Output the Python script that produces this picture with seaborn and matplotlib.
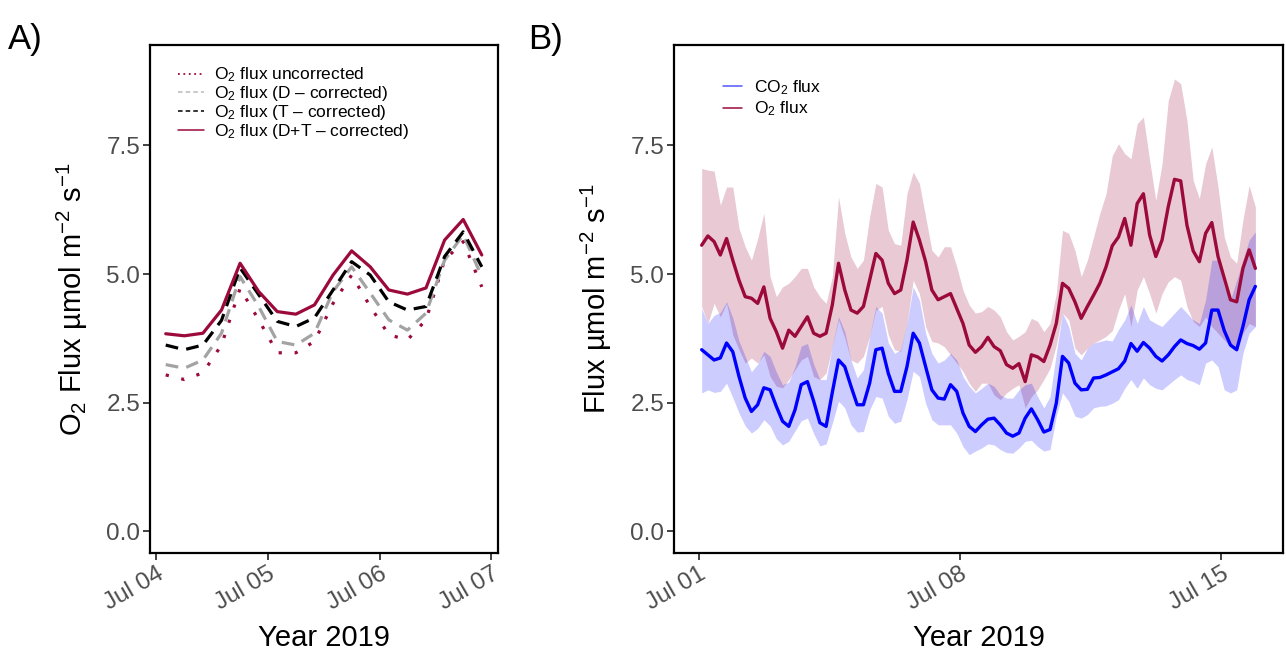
import numpy as np
import pandas as pd
import matplotlib
matplotlib.use("Agg")
import matplotlib.pyplot as plt
import matplotlib.dates as mdates
from matplotlib.lines import Line2D
from matplotlib.ticker import FormatStrFormatter
import seaborn as sns

# panel A: O2 flux corrections, 4-hourly, Jul 04 02:00 - Jul 06 22:00
o2_uncorrected = [3.04, 2.95, 3.08, 3.62, 4.72, 4.11, 3.47, 3.47, 3.69, 4.43,
                  4.98, 4.37, 3.82, 3.72, 4.11, 5.27, 5.63, 4.75]
o2_d_corrected = [3.24, 3.17, 3.33, 3.85, 4.95, 4.37, 3.69, 3.62, 3.85, 4.66,
                  5.14, 4.63, 4.11, 3.91, 4.24, 5.27, 5.76, 4.95]
o2_t_corrected = [3.62, 3.53, 3.62, 4.10, 5.12, 4.60, 4.08, 3.98, 4.15, 4.69,
                  5.24, 4.98, 4.46, 4.30, 4.37, 5.34, 5.82, 5.14]
o2_dt_corrected = [3.84, 3.80, 3.85, 4.30, 5.21, 4.66, 4.27, 4.22, 4.40, 4.98,
                   5.45, 5.14, 4.69, 4.61, 4.73, 5.66, 6.06, 5.37]

# panel B: CO2 and O2 flux with ranges, 4-hourly, Jul 01 02:00 - Jul 15 22:00
co2_flux = [3.53, 3.43, 3.33, 3.37, 3.66, 3.49, 3.01, 2.59, 2.33, 2.46, 2.79, 2.75, 2.43, 2.14, 2.04,
            2.36, 2.85, 2.91, 2.53, 2.11, 2.04, 2.70, 3.33, 3.20, 2.82, 2.46, 2.46, 2.88, 3.53, 3.56,
            3.07, 2.72, 2.72, 3.20, 3.85, 3.66, 3.20, 2.75, 2.59, 2.57, 2.85, 2.72, 2.30, 2.04, 1.94,
            2.07, 2.18, 2.20, 2.07, 1.91, 1.85, 1.91, 2.20, 2.38, 2.17, 1.93, 1.98, 2.49, 3.40, 3.27,
            2.88, 2.75, 2.76, 2.98, 2.99, 3.04, 3.10, 3.16, 3.31, 3.65, 3.50, 3.67, 3.56, 3.40, 3.31,
            3.43, 3.59, 3.72, 3.65, 3.61, 3.54, 3.66, 4.30, 4.30, 3.90, 3.62, 3.53, 3.98, 4.50, 4.76]
co2_upper = [4.33, 4.04, 4.20, 4.25, 4.46, 4.15, 3.70, 3.40, 3.10, 3.25, 3.50, 3.40, 3.10, 2.85, 2.90,
             3.20, 3.60, 3.65, 3.25, 2.95, 2.95, 3.60, 4.17, 3.88, 3.33, 2.98, 3.14, 3.79, 4.37, 4.24,
             3.66, 3.46, 3.53, 4.04, 4.75, 4.49, 3.85, 3.46, 3.27, 3.33, 3.46, 3.33, 3.01, 2.82, 2.69,
             2.78, 2.88, 2.82, 2.65, 2.59, 2.59, 2.75, 2.85, 2.88, 2.62, 2.40, 2.62, 3.46, 4.24, 3.98,
             3.46, 3.33, 3.56, 3.66, 3.69, 3.72, 3.70, 3.92, 4.11, 4.40, 4.04, 4.37, 4.11, 4.04, 3.98,
             4.11, 4.24, 4.37, 4.24, 4.11, 4.04, 4.50, 5.27, 5.27, 4.76, 4.50, 4.88, 5.27, 5.66, 5.82]
co2_lower = [2.69, 2.75, 2.70, 2.72, 2.88, 2.60, 2.30, 2.05, 1.91, 2.00, 2.17, 2.05, 1.80, 1.68, 1.75,
             1.95, 2.15, 2.20, 1.90, 1.66, 1.70, 2.10, 2.53, 2.40, 2.07, 1.93, 1.94, 2.36, 2.62, 2.59,
             2.24, 2.10, 2.14, 2.56, 3.11, 3.01, 2.49, 2.17, 2.07, 2.07, 2.07, 1.91, 1.65, 1.49, 1.56,
             1.62, 1.70, 1.68, 1.59, 1.53, 1.52, 1.62, 1.75, 1.77, 1.65, 1.56, 1.59, 2.24, 2.69, 2.53,
             2.24, 2.20, 2.27, 2.40, 2.43, 2.44, 2.49, 2.56, 2.78, 2.95, 2.78, 2.98, 2.85, 2.78, 2.75,
             2.85, 2.95, 3.04, 2.95, 2.91, 2.85, 3.27, 3.33, 3.20, 2.75, 2.69, 2.75, 3.46, 3.85, 3.98]
o2_flux = [5.56, 5.74, 5.63, 5.37, 5.69, 5.27, 4.88, 4.56, 4.53, 4.43, 4.75, 4.14, 3.88, 3.56, 3.91,
           3.79, 3.98, 4.17, 3.85, 3.79, 3.85, 4.40, 5.21, 4.69, 4.30, 4.24, 4.37, 4.88, 5.40, 5.27,
           4.82, 4.62, 4.69, 5.27, 6.01, 5.66, 5.24, 4.69, 4.50, 4.56, 4.62, 4.33, 4.04, 3.62, 3.48,
           3.59, 3.77, 3.59, 3.51, 3.24, 3.17, 3.26, 2.91, 3.43, 3.39, 3.30, 3.62, 4.04, 4.82, 4.72,
           4.46, 4.14, 4.37, 4.59, 4.82, 5.14, 5.55, 5.72, 6.08, 5.56, 6.37, 6.56, 5.76, 5.34, 5.66,
           6.31, 6.84, 6.81, 5.95, 5.45, 5.24, 5.79, 6.00, 5.34, 4.92, 4.50, 4.46, 5.11, 5.47, 5.11]
o2_upper = [7.05, 7.02, 7.00, 6.34, 6.69, 6.69, 5.89, 5.53, 5.27, 5.69, 6.18, 4.95, 4.56, 4.75, 4.82,
            4.95, 5.11, 5.11, 4.75, 4.56, 4.43, 4.95, 6.50, 5.79, 5.33, 5.11, 5.27, 6.11, 6.76, 6.69,
            5.85, 5.59, 5.56, 6.56, 6.98, 6.76, 6.11, 5.46, 5.33, 5.53, 5.53, 5.14, 4.69, 4.40, 4.24,
            4.27, 4.37, 4.30, 4.17, 3.88, 3.72, 3.79, 3.88, 4.14, 4.08, 3.88, 4.04, 4.62, 5.85, 5.79,
            5.46, 4.95, 5.27, 5.72, 6.18, 6.56, 7.30, 7.53, 7.34, 7.24, 7.92, 8.05, 7.21, 6.43, 7.14,
            8.37, 8.79, 8.70, 7.98, 6.82, 6.47, 7.14, 7.47, 6.69, 5.72, 5.33, 5.21, 6.05, 6.72, 6.30]
o2_lower = [4.37, 4.04, 4.43, 4.17, 4.43, 3.82, 3.53, 3.27, 3.37, 3.27, 3.43, 3.01, 2.82, 2.79, 2.95,
            3.14, 3.33, 3.40, 3.01, 2.95, 3.08, 3.59, 4.11, 3.76, 3.33, 3.27, 3.40, 3.79, 4.30, 4.37,
            3.82, 3.53, 3.50, 4.04, 4.88, 4.62, 3.98, 3.69, 3.66, 3.59, 3.43, 3.27, 3.11, 2.88, 2.72,
            2.88, 2.88, 2.65, 2.56, 2.69, 2.78, 2.85, 2.40, 2.62, 2.75, 2.95, 3.17, 3.62, 4.24, 4.11,
            3.56, 3.43, 3.56, 3.66, 3.72, 3.79, 3.90, 4.30, 4.62, 3.98, 4.69, 4.95, 4.62, 4.24, 4.62,
            4.85, 4.95, 4.88, 4.37, 4.08, 3.98, 4.17, 3.98, 3.85, 3.72, 3.59, 3.50, 3.85, 4.04, 3.98]

crimson = "#9B0A3A"
grey = "#A3A3A3"
blue = "#0000FF"

sns.set_theme(style="white")
plt.rcParams["font.family"] = ["Liberation Sans", "DejaVu Sans"]
plt.rcParams["mathtext.fontset"] = "custom"
plt.rcParams["mathtext.rm"] = "Liberation Sans"
plt.rcParams["mathtext.it"] = "Liberation Sans:italic"
plt.rcParams["mathtext.default"] = "regular"
plt.rcParams["text.color"] = "black"

df_a = pd.DataFrame({
    "time": pd.date_range("2019-07-04 02:00", periods=len(o2_dt_corrected), freq="4h"),
    "unc": o2_uncorrected, "d": o2_d_corrected, "t": o2_t_corrected, "dt": o2_dt_corrected,
})
df_b = pd.DataFrame({
    "time": pd.date_range("2019-07-01 02:00", periods=len(o2_flux), freq="4h"),
    "co2": co2_flux, "co2_lo": co2_lower, "co2_hi": co2_upper,
    "o2": o2_flux, "o2_lo": o2_lower, "o2_hi": o2_upper,
})

fig = plt.figure(figsize=(12.86, 6.57), dpi=100)
ax1 = fig.add_axes([0.1166, 0.1583, 0.2703, 0.7732])
ax2 = fig.add_axes([0.5241, 0.1583, 0.4736, 0.7732])

# panel A
lw = 2.3
sns.lineplot(data=df_a, x="time", y="unc", ax=ax1, color=crimson, lw=lw, linestyle=(0, (1, 4)))
sns.lineplot(data=df_a, x="time", y="d", ax=ax1, color=grey, lw=lw, linestyle=(0, (4, 2.6)))
sns.lineplot(data=df_a, x="time", y="t", ax=ax1, color="black", lw=lw, linestyle=(0, (4, 2.6)))
sns.lineplot(data=df_a, x="time", y="dt", ax=ax1, color=crimson, lw=lw)

handles_a = [
    Line2D([], [], color=crimson, lw=1.3, linestyle=(0, (1, 2))),
    Line2D([], [], color="#BBBBBB", lw=1.1, linestyle=(0, (3, 2))),
    Line2D([], [], color="black", lw=1.1, linestyle=(0, (3, 2))),
    Line2D([], [], color=crimson, lw=1.1),
]
labels_a = ["O$_2$ flux uncorrected", "O$_2$ flux (D \u2013 corrected)",
            "O$_2$ flux (T \u2013 corrected)", "O$_2$ flux (D+T \u2013 corrected)"]
ax1.legend(handles_a, labels_a, loc="upper left", bbox_to_anchor=(0.035, 0.99), frameon=False,
           fontsize=12.5, handlelength=1.5, handletextpad=0.6, labelspacing=0.0)

t0 = pd.Timestamp("2019-07-04")
ax1.set_xlim(t0 - pd.Timedelta(days=0.058), t0 + pd.Timedelta(days=3.058))
ax1.xaxis.set_major_locator(mdates.DayLocator())
ax1.xaxis.set_major_formatter(mdates.DateFormatter("%b %d"))
ax1.set_ylabel("O$_2$ Flux \u00b5mol m$^{-2}$ s$^{-1}$", fontsize=21, labelpad=12, color="black")

# panel B
ax2.fill_between(df_b["time"], df_b["o2_lo"], df_b["o2_hi"], color=crimson, alpha=0.22, lw=0)
ax2.fill_between(df_b["time"], df_b["co2_lo"], df_b["co2_hi"], color=blue, alpha=0.2, lw=0)
sns.lineplot(data=df_b, x="time", y="co2", ax=ax2, color=blue, lw=2.4)
sns.lineplot(data=df_b, x="time", y="o2", ax=ax2, color=crimson, lw=2.4)

handles_b = [Line2D([], [], color="#5555FF", lw=1.1), Line2D([], [], color=crimson, lw=1.1)]
ax2.legend(handles_b, ["CO$_2$ flux", "O$_2$ flux"], loc="upper left", bbox_to_anchor=(0.055, 0.965),
           frameon=False, fontsize=12.5, handlelength=1.1, handletextpad=0.7, labelspacing=0.15)

t1 = pd.Timestamp("2019-07-01")
ax2.set_xlim(t1 - pd.Timedelta(days=0.658), t1 + pd.Timedelta(days=15.658))
ax2.xaxis.set_major_locator(mdates.DayLocator(bymonthday=[1, 8, 15]))
ax2.xaxis.set_major_formatter(mdates.DateFormatter("%b %d"))
ax2.set_ylabel("Flux \u00b5mol m$^{-2}$ s$^{-1}$", fontsize=21, labelpad=12, color="black")

for ax in (ax1, ax2):
    ax.set_ylim(-0.42, 9.45)
    ax.set_yticks([0, 2.5, 5, 7.5])
    ax.yaxis.set_major_formatter(FormatStrFormatter("%.1f"))
    ax.set_xlabel("Year 2019", fontsize=21, labelpad=7, color="black")
    ax.tick_params(axis="both", direction="out", length=5, width=1.3, color="#333333",
                   labelsize=17.5, labelcolor="#4D4D4D", bottom=True, left=True, pad=2)
    for lab in ax.get_xticklabels():
        lab.set_rotation(30)
        lab.set_ha("right")
        lab.set_rotation_mode("anchor")
    for sp in ax.spines.values():
        sp.set_color("black")
        sp.set_linewidth(1.6)

fig.text(0.006, 0.925, "A)", fontsize=25, color="black")
fig.text(0.411, 0.925, "B)", fontsize=25, color="black")

fig.savefig("out.png", dpi=100)
